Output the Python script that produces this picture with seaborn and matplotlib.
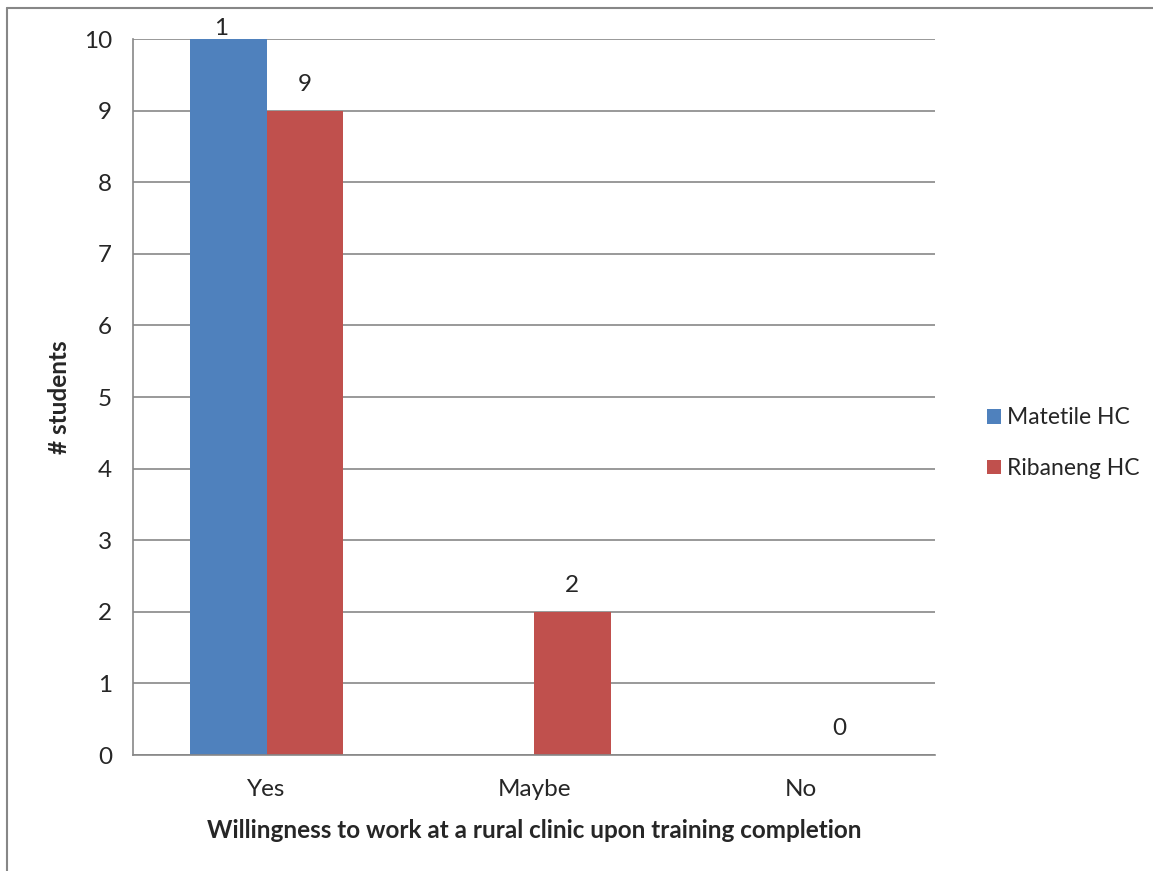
import numpy as np
import pandas as pd
import matplotlib
matplotlib.use("Agg")
import matplotlib.pyplot as plt
import seaborn as sns
from matplotlib.lines import Line2D
from matplotlib.patches import Patch
from matplotlib.transforms import Bbox, TransformedBbox

# data
answers = ["Yes", "Maybe", "No"]
matetile = [10, np.nan, np.nan]
ribaneng = [9, 2, 0]
groups = ["Matetile HC", "Ribaneng HC"]
colors = ["#4F81BD", "#C0504D"]

df = pd.DataFrame({
    "answer": answers * 2,
    "students": matetile + ribaneng,
    "clinic": [groups[0]] * 3 + [groups[1]] * 3,
})

sns.set_style("white")
plt.rcParams['font.family'] = ['Lato', 'DejaVu Sans']
grid_col = "#878787"
fs = 17.5

fig = plt.figure(figsize=(11.53, 8.71), dpi=100)
ax = fig.add_axes([133 / 1153, 1 - 755 / 871, (935 - 133) / 1153, (755 - 39) / 871])

sns.barplot(data=df, x="answer", y="students", hue="clinic", order=answers,
            hue_order=groups, palette=colors, width=0.573, saturation=1,
            legend=False, ax=ax, errorbar=None, linewidth=0, edgecolor="none")

ax.set_xlim(-0.5, 2.5)
ax.set_ylim(0, 10)
ax.set_yticks(range(0, 11))
ax.yaxis.grid(True, color=grid_col, linewidth=1.2)
ax.set_axisbelow(True)
for s in ["top", "right"]:
    ax.spines[s].set_visible(False)
for s in ["left", "bottom"]:
    ax.spines[s].set_color(grid_col)
    ax.spines[s].set_linewidth(1.2)

ax.tick_params(axis="y", length=7, width=1.2, color=grid_col, labelsize=fs, pad=8)
ax.tick_params(axis="x", which="major", length=0, labelsize=fs, pad=17)
ax.set_xticks([-0.5, 0.5, 1.5, 2.5], minor=True)
ax.tick_params(axis="x", which="minor", length=9, width=1.2, color=grid_col)

ax.set_xlabel("Willingness to work at a rural clinic upon training completion",
              fontsize=fs, fontweight="bold", labelpad=14)
ax.set_ylabel("# students", fontsize=fs, fontweight="bold", labelpad=9)

# value labels, Excel style (the 10 label is pushed down and cut off at the plot edge)
for bar in list(ax.patches):
    val = bar.get_height()
    if np.isnan(val):
        continue
    cx = bar.get_x() + bar.get_width() / 2
    off = 0.0 if val == 10 else 0.22
    t = ax.text(cx, val + off, f"{int(val)}", ha="center", va="bottom",
                fontsize=fs, clip_on=False)
    if val == 10:
        t.set_clip_on(True)
        t.set_clip_box(TransformedBbox(Bbox([[-1, -1], [cx, 12]]), ax.transData))

handles = [Patch(facecolor=c, edgecolor="none") for c in colors]
fig.legend(handles, groups, loc="center left", bbox_to_anchor=(0.838, 0.491),
           frameon=False, fontsize=16.5, handlelength=0.6, handleheight=0.6,
           handletextpad=0.3, labelspacing=1.3)

# outer chart border
fig.add_artist(Line2D([7 / 1153, 7 / 1153], [0, 1 - 8 / 871], color=grid_col, lw=1.5))
fig.add_artist(Line2D([7 / 1153, 1], [1 - 8 / 871, 1 - 8 / 871], color=grid_col, lw=1.5))

fig.savefig("out.png", dpi=100)
